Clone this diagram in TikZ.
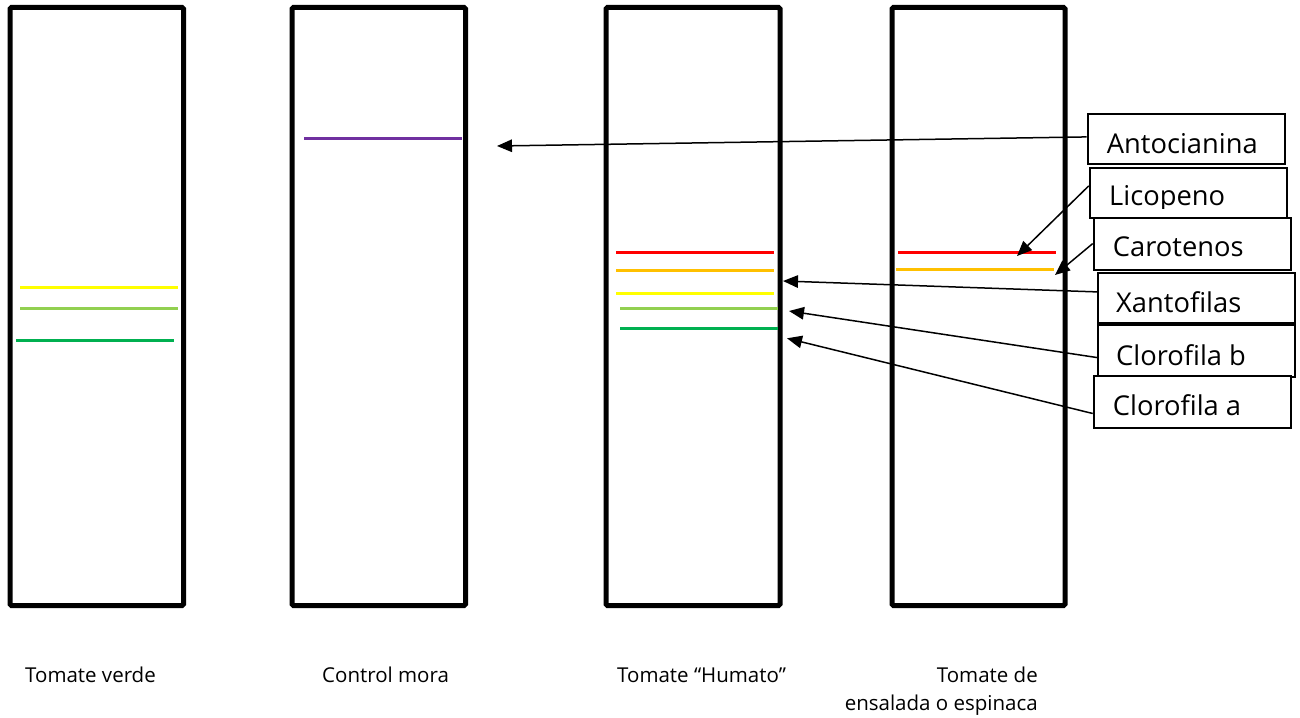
\documentclass[tikz,border=0pt]{standalone}
\usepackage{fontspec}
\setmainfont{Open Sans}
\usetikzlibrary{arrows.meta,calc}
\definecolor{cred}{HTML}{FF0000}
\definecolor{corange}{HTML}{FFC000}
\definecolor{cyellow}{HTML}{FFFF00}
\definecolor{clgreen}{HTML}{92D050}
\definecolor{cdgreen}{HTML}{00B050}
\definecolor{cpurple}{HTML}{7030A0}
\begin{document}
\begin{tikzpicture}[x=1pt,y=-1pt,
  strip/.style={draw=black,line width=5pt,rounded corners=1.5pt},
  band/.style={line width=3pt},
  lbox/.style={draw=black,line width=1.8pt,fill=white,inner sep=0pt,anchor=north west},
  ltext/.style={font=\fontsize{27.3}{32}\selectfont,inner sep=0pt,anchor=base west},
  captxt/.style={font=\fontsize{20.5}{26}\selectfont,inner sep=0pt},
  arr/.style={line width=1.5pt,-{Triangle[length=15pt,width=12.5pt]}}]
\useasboundingbox (0,0) rectangle (1300,717);
\fill[white] (0,0) rectangle (1300,717);

% strips
\draw[strip] (10,7.5) rectangle (183.5,605.5);
\draw[strip] (292,7.5) rectangle (465.5,605.5);
\draw[strip] (606,7.5) rectangle (780,605.5);
\draw[strip] (892,7.5) rectangle (1065,605.5);

% bands strip 1
\draw[band,cyellow] (20,287.7) -- (178,287.7);
\draw[band,clgreen] (20,308.7) -- (178,308.7);
\draw[band,cdgreen] (16,340.7) -- (174,340.7);
% strip 2
\draw[band,cpurple] (304,138.3) -- (461.7,138.3);
% strip 3
\draw[band,cred] (616,252.3) -- (773.7,252.3);
\draw[band,corange] (616,270.3) -- (773.7,270.3);
\draw[band,cyellow] (616,293.7) -- (773.7,293.7);
\draw[band,clgreen] (620,308.7) -- (777.7,308.7);
\draw[band,cdgreen] (620,328.7) -- (777.7,328.7);
% strip 4
\draw[band,cred] (898,252) -- (1055.7,252);
\draw[band,corange] (896,269.7) -- (1054,269.7);

% label boxes
\node[lbox,minimum width=197pt,minimum height=50pt] (bA) at (1086.7,113.3) {};
\node[ltext] (tA) at (1106.7,153) {Antocianina};
\node[lbox,minimum width=197pt,minimum height=50.6pt] (bL) at (1088.7,166.7) {};
\begin{scope}
\clip (1089,168) rectangle (1285,208);
\node[ltext] (tL) at (1109,205) {Licopeno};
\end{scope}
\node[lbox,minimum width=197pt,minimum height=52.3pt] (bC) at (1092.7,216.7) {};
\node[ltext] (tC) at (1112.7,256.7) {Carotenos};
\node[lbox,minimum width=197pt,minimum height=50pt] (bX) at (1097,271.7) {};
\node[ltext] (tX) at (1116,312.3) {Xantofilas};
\node[lbox,minimum width=197pt,minimum height=51.4pt] (bB) at (1097,324.3) {};
\node[ltext] (tB) at (1116,365) {Clorofila b};
\node[lbox,minimum width=197pt,minimum height=52pt] (bCa) at (1092.7,375.3) {};
\node[ltext] (tCa) at (1112.7,415) {Clorofila a};

% arrow tips
\coordinate (pA) at (497,146);
\coordinate (pL) at (1017,256);
\coordinate (pC) at (1055,275);
\coordinate (pX) at (783,281);
\coordinate (pB) at (789,311);
\coordinate (pCa) at (787,338.3);

\draw[arr] ($(bA.north west)!0.456!(bA.south west)$) -- (pA);
\draw[arr] ($(bL.north west)!0.367!(bL.south west)$) -- (pL);
\draw[arr] ($(bC.north west)!0.497!(bC.south west)$) -- (pC);
\draw[arr] ($(bX.north west)!0.39!(bX.south west)$) -- (pX);
\draw[arr] ($(bB.north west)!0.625!(bB.south west)$) -- (pB);
\draw[arr] ($(bCa.north west)!0.71!(bCa.south west)$) -- (pCa);

% captions
\node[captxt,anchor=base west] (c1) at (25,682) {Tomate verde};
\node[captxt,anchor=base west] (c2) at (322,682) {Control mora};
\node[captxt,anchor=base west] (c3) at (617,682) {Tomate “Humato”};
\node[captxt,anchor=base east] (c4a) at (1038,682) {Tomate de};
\node[captxt,anchor=base east] (c4b) at (1038,710) {ensalada o espinaca};
\end{tikzpicture}
\end{document}
